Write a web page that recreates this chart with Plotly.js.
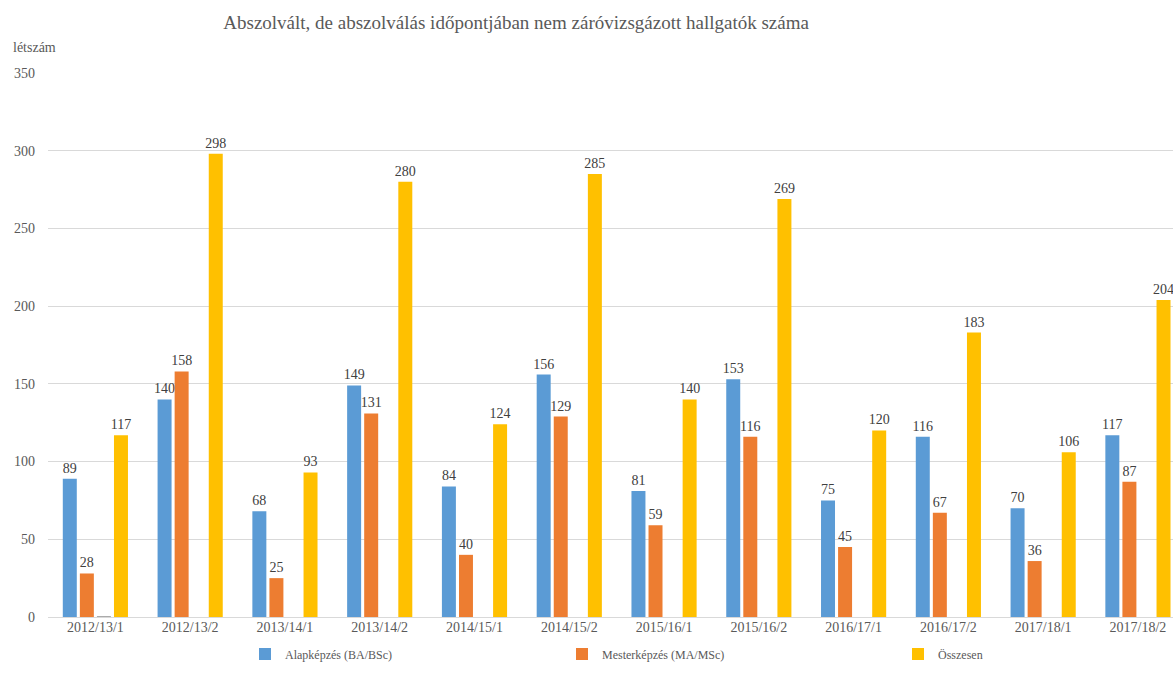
<!DOCTYPE html>
<html>
<head>
<meta charset="utf-8">
<script src="https://cdn.plot.ly/plotly-3.0.1.min.js"></script>
<style>html,body{margin:0;padding:0;background:#fff;}#chart{width:1173px;height:689px;}</style>
</head>
<body>
<div id="chart"></div>
<script>
const categories = ["2012/13/1","2012/13/2","2013/14/1","2013/14/2","2014/15/1","2014/15/2","2015/16/1","2015/16/2","2016/17/1","2016/17/2","2017/18/1","2017/18/2"];
const alapkepzes = [89,140,68,149,84,156,81,153,75,116,70,117];
const mesterkepzes = [28,158,25,131,40,129,59,116,45,67,36,87];
const egyeb = [0.6,0,0,0,0,0,0,0,0,0,0,0];
const osszesen = [117,298,93,280,124,285,140,269,120,183,106,204];
const seriesNames = ["Alapképzés (BA/BSc)","Mesterképzés (MA/MSc)","","Összesen"];
const xIdx = categories.map((c,i)=>i);

const fontFam = "Liberation Serif, DejaVu Serif, serif";
const labelFont = {family: fontFam, size: 14, color: '#404040'};

function barTrace(vals, name, color, legend, showText){
  return {
    type: 'bar', x: xIdx, y: vals, name: name,
    marker: {color: color},
    texttemplate: showText ? '%{y}' : '',
    textposition: showText ? 'outside' : 'none',
    textfont: labelFont,
    outsidetextfont: labelFont,
    constraintext: 'none',
    cliponaxis: false,
    hoverinfo: 'skip',
    legend: legend || 'legend',
    showlegend: !!legend
  };
}

const data = [
  barTrace(alapkepzes, seriesNames[0], '#5b9bd5', 'legend', true),
  barTrace(mesterkepzes, seriesNames[1], '#ed7d31', 'legend2', true),
  barTrace(egyeb, '', '#a5a5a5', null, false),
  barTrace(osszesen, seriesNames[3], '#ffc000', 'legend3', true)
];

const legBase = {orientation:'h', yanchor:'middle', xanchor:'left', y:-0.068, font:{family:fontFam, size:12, color:'#595959'}, bgcolor:'rgba(0,0,0,0)', itemwidth:30};

const layout = {
  width: 1173, height: 689,
  margin: {l: 48, r: 0, t: 73, b: 72},
  paper_bgcolor: '#fff', plot_bgcolor: '#fff',
  bargap: 0.28, bargroupgap: 0.18,
  barmode: 'group',
  uniformtext: {mode: false},
  title: {text: 'Abszolvált, de abszolválás időpontjában nem záróvizsgázott hallgatók száma',
          font: {family: fontFam, size: 19, color: '#595959'}, x: 0.44, xanchor: 'center', y: 0.968, yanchor: 'middle'},
  xaxis: {
    range: [-0.5, 11.37],
    tickmode: 'array', tickvals: xIdx, ticktext: categories,
    tickfont: {family: fontFam, size: 14, color: '#595959'},
    showgrid: false, zeroline: false, showline: false, ticks: '', fixedrange: true
  },
  yaxis: {
    range: [0, 350], dtick: 50, tick0: 0,
    tickfont: {family: fontFam, size: 14, color: '#595959'},
    gridcolor: '#d9d9d9', gridwidth: 1,
    zeroline: true, zerolinecolor: '#d9d9d9', zerolinewidth: 1,
    showline: false, ticks: '', ticklabelstandoff: 12, fixedrange: true
  },
  showlegend: true,
  legend: Object.assign({}, legBase, {x: (245-48)/1125}),
  legend2: Object.assign({}, legBase, {x: (562-48)/1125}),
  legend3: Object.assign({}, legBase, {x: (898-48)/1125}),
  annotations: [
    {text: 'létszám', xref: 'paper', yref: 'paper', x: -0.033, y: 1.046, xanchor: 'left', yanchor: 'middle', showarrow: false,
     font: {family: fontFam, size: 14, color: '#595959'}}
  ]
};

Plotly.newPlot('chart', data, layout, {displayModeBar: false, staticPlot: true});
</script>
</body>
</html>
